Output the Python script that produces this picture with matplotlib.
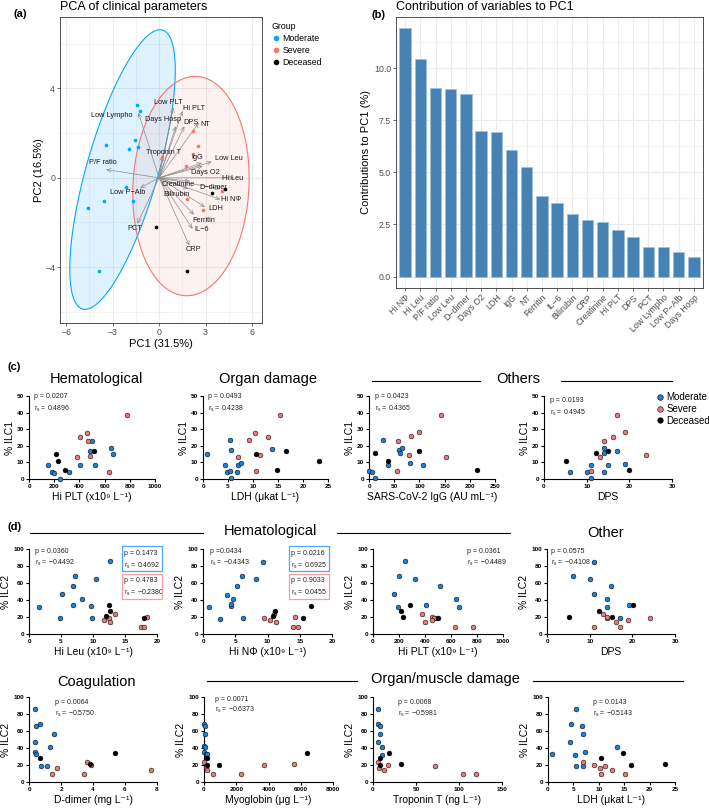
import matplotlib
matplotlib.use('Agg')
import matplotlib.pyplot as plt
import numpy as np
from matplotlib.lines import Line2D
from matplotlib.patches import Rectangle

plt.rcParams['font.family'] = ['Liberation Sans', 'DejaVu Sans']
plt.rcParams['mathtext.fontset'] = 'custom'
plt.rcParams['mathtext.rm'] = 'Liberation Sans'
plt.rcParams['mathtext.it'] = 'Liberation Sans:italic'

# ---------------- data: PCA (a) ----------------
pca_mod_x = [-1.40, -1.23, -3.43, -1.92, -1.53, -1.38, -2.13, -3.58, -1.66, -4.57, -3.88]
pca_mod_y = [3.25, 2.97, 1.47, 1.30, 1.69, 1.36, -0.42, -1.02, -1.05, -1.36, -4.16]
pca_sev_x = [2.18, 2.50, 2.22, 1.75, 0.17, 1.79, 2.87, 4.05]
pca_sev_y = [2.08, 1.42, 1.05, 0.52, 0.93, -0.94, -1.42, -0.60]
pca_dec_x = [3.43, 4.27, -0.22, 1.79]
pca_dec_y = [-0.66, -0.52, -2.19, -4.19]

var_names = ['Low PLT', 'Hi PLT', 'Days Hosp', 'DPS', 'NT', 'Low Lympho', 'Troponin T',
             'P/F ratio', 'IgG', 'Low Leu', 'Days O2', 'Hi Leu', 'Creatinine', 'D\u2212dimer',
             'Hi N\u03a6', 'Bilirubin', 'LDH', 'Ferritin', 'IL\u22126', 'CRP', 'Low P\u2212Alb', 'PCT']
var_x = [0.93, 1.53, 1.08, 1.64, 2.57, -1.34, 0.22, -3.43, 2.76, 3.41, 2.82, 4.85, 2.00, 3.96,
         3.96, 1.90, 2.97, 2.26, 2.17, 1.96, -1.23, -1.40]
var_y = [3.15, 3.00, 2.31, 2.31, 2.47, 2.92, 1.00, 0.37, 0.67, 0.72, 0.52, 0.00, -0.15, -0.49,
         -0.97, -0.50, -1.31, -1.65, -2.29, -3.04, -0.45, -2.05]
lab_x = [0.60, 2.28, 0.28, 2.05, 3.02, -3.06, 0.28, -3.64, 2.44, 4.48, 3.02, 4.76, 1.25, 3.51,
         4.66, 1.14, 3.69, 2.91, 2.76, 2.22, -2.05, -1.55]
lab_y = [3.37, 3.10, 2.59, 2.47, 2.38, 2.77, 1.15, 0.67, 0.90, 0.85, 0.25, -0.04, -0.30, -0.42,
         -0.97, -0.75, -1.39, -1.92, -2.32, -3.22, -0.64, -2.26]

# ---------------- data: contributions (b) ----------------
contrib_names = ['Hi N\u03a6', 'Hi Leu', 'P/F ratio', 'Low Leu', 'D\u2212dimer', 'Days O2', 'LDH', 'IgG',
                 'NT', 'Ferritin', 'IL\u22126', 'Bilirubin', 'CRP', 'Creatinine', 'Hi PLT', 'DPS',
                 'PCT', 'Low Lympho', 'Low P\u2212Alb', 'Days Hosp']
contrib_vals = [11.9, 10.45, 9.05, 9.0, 8.78, 6.98, 6.92, 6.08, 5.25, 3.85, 3.55, 3.0, 2.7,
                2.62, 2.25, 1.92, 1.4, 1.4, 1.2, 0.92]

# ---------------- data: (c) ILC1 ----------------
c1_mod_x = [151, 186, 196, 247, 321, 406, 483, 525, 650, 668, 499]
c1_mod_y = [8.4, 4.4, 3.8, 0.2, 4.0, 8.6, 17, 8.4, 18.4, 15, 23]
c1_sev_x = [382, 485, 637, 406, 464, 472, 780]
c1_sev_y = [13, 14, 4.4, 25.4, 28, 22.8, 38.6]
c1_dec_x = [217, 228, 289, 512]
c1_dec_y = [15, 10.8, 5.4, 16.6]

c2_mod_x = [0.8, 5.6, 4.4, 4.8, 5.4, 5.6, 6.8, 7.0, 7.5, 5.3, 13.7]
c2_mod_y = [14.8, 17.4, 8.6, 4.4, 4.8, 0.4, 4.4, 8.6, 9.4, 23.4, 18.2]
c2_sev_x = [7.0, 9.2, 10.4, 11.3, 10.6, 13.0, 15.3]
c2_sev_y = [13.4, 23.4, 28, 14.2, 4.6, 25.4, 38.6]
c2_dec_x = [10.6, 14.7, 16.6, 23.1]
c2_dec_y = [15.2, 5.4, 17, 11]

c3_mod_x = [0, 5, 12, 37, 59, 62, 65, 81, 107, 27]
c3_mod_y = [5, 4.4, 0.4, 8.6, 17.4, 15.4, 18.6, 9.4, 8.6, 23.4]
c3_sev_x = [55, 80, 152, 57, 84, 100, 143]
c3_sev_y = [4.6, 14.4, 13.4, 23, 25.8, 28.4, 38.8]
c3_dec_x = [12, 37, 100, 215]
c3_dec_y = [15.4, 11, 17, 5.6]

c4_mod_x = [6, 10, 11, 11, 14.1, 14.1, 14.1, 15.1, 17, 19]
c4_mod_y = [4, 4.4, 8.6, 0.4, 4.4, 15.4, 18.6, 8.6, 17, 9]
c4_sev_x = [11, 13.1, 14.1, 24, 16.1, 17, 19]
c4_sev_y = [4.6, 13.4, 23, 14.4, 25.4, 38.8, 28.2]
c4_dec_x = [5.1, 12.1, 15.1, 20]
c4_dec_y = [11, 15.4, 17, 5.6]

# ---------------- data: (d) ILC2 ----------------
d1_mod_x = [1.5, 4.8, 5.2, 6.9, 6.9, 7.2, 8.3, 9.7, 9.8, 10.5, 12.7]
d1_mod_y = [31.3, 18.8, 46.9, 34.4, 55.9, 68.4, 41.4, 32.4, 18.8, 64.8, 85.5]
d1_sev_x = [11.7, 12.5, 12.7, 13.4, 18.5, 17.5, 18.0]
d1_sev_y = [16, 18.8, 13.7, 23.4, 19.9, 8.6, 8.6]
d1_dec_x = [12.5, 12.7, 12.0, 17.9]
d1_dec_y = [33.6, 27.3, 20.7, 18.8]

d2_mod_x = [0.9, 2.6, 3.7, 4.3, 4.4, 4.6, 5.3, 6.1, 6.2, 8.2, 9.3]
d2_mod_y = [31.3, 18, 46, 32.8, 34.8, 41, 55.9, 68.4, 18.8, 64.8, 85]
d2_sev_x = [9.5, 10.4, 11.0, 11.3, 14.3, 13.9, 14.7]
d2_sev_y = [18.4, 16, 23.4, 13.7, 19.9, 8.6, 8.6]
d2_dec_x = [10.9, 11.1, 15.5, 16.8]
d2_dec_y = [20.7, 27.3, 18.8, 33.2]

d3_mod_x = [159, 192, 197, 249, 321, 405, 518, 641, 659, 485]
d3_mod_y = [46.9, 31.3, 68.4, 85.5, 64.8, 34, 55.9, 41, 31.6, 18.8]
d3_sev_x = [377, 403, 456, 467, 456, 628, 769]
d3_sev_y = [23.4, 13.7, 19.5, 18.5, 16, 8.6, 8.6]
d3_dec_x = [218, 228, 287, 500]
d3_dec_y = [27.3, 20.3, 33.6, 18.8]

d4_mod_x = [6.1, 10.1, 11.1, 11.1, 14.1, 14.1, 14.1, 15, 17.1, 19.3]
d4_mod_y = [68.4, 64.8, 85, 46.9, 41, 32, 18.4, 55.9, 18.8, 33.6]
d4_sev_x = [11.1, 13.1, 14.1, 16.1, 17.1, 19.1, 24.2]
d4_sev_y = [8.6, 23.4, 19.5, 13.7, 8.6, 16, 18.8]
d4_dec_x = [5.1, 12.1, 15.2, 20.2]
d4_dec_y = [20.3, 27.3, 19.5, 33.6]

d5_mod_x = [0.35, 0.46, 0.71, 0.4, 0.4, 0.46, 1.54, 1.29, 0.77, 1.15]
d5_mod_y = [86.3, 65.5, 68.6, 47, 35.3, 32.5, 56.9, 41.2, 19.2, 18.8]
d5_sev_x = [1.44, 1.75, 3.42, 3.63, 3.9, 7.6]
d5_sev_y = [9, 16.5, 9, 23.5, 19.6, 14.1]
d5_dec_x = [0.71, 3.8, 5.4]
d5_dec_y = [28.2, 21.6, 34.1]

d6_mod_x = [30, 60, 80, 20, 60, 30, 120, 170]
d6_mod_y = [68.6, 65.5, 56.9, 42, 41.5, 35, 33.3, 32.5]
d6_sev_x = [20, 150, 190, 540, 2270, 3700, 5600]
d6_sev_y = [23.5, 17.6, 14.5, 9, 9, 19.6, 20.8]
d6_dec_x = [200, 170, 950, 6400]
d6_dec_y = [28.2, 20.4, 20.4, 34.1]

d7_mod_x = [5.4, 5.4, 8.5, 7.8, 5.4, 10.5, 10.5]
d7_mod_y = [86.3, 68.6, 65.5, 56, 46.7, 41.2, 32.2]
d7_sev_x = [5.4, 6.6, 12.4, 17, 72.5, 105, 120]
d7_sev_y = [23.5, 16.5, 14.1, 19.6, 18.8, 9, 9]
d7_dec_x = [18.2, 7.8, 7.8, 32.6]
d7_dec_y = [34.1, 28.2, 19.6, 20.8]

d8_mod_x = [0.7, 4.4, 4.5, 5.6, 5.3, 5.6, 6.6, 6.8, 6.9, 7.2, 13.6]
d8_mod_y = [33.3, 47, 68.6, 86.3, 32.2, 18.8, 65.5, 56.9, 18.8, 34.9, 41.2]
d8_sev_x = [6.9, 9.0, 10.2, 10.5, 11.2, 12.5, 15.1]
d8_sev_y = [23.5, 20.4, 16.9, 9, 19.2, 14.1, 9]
d8_dec_x = [10.5, 14.7, 16.4, 23]
d8_dec_y = [28.2, 34.1, 20, 20.8]

group_labels = ['Moderate', 'Severe', 'Deceased']

# ---------------- styling ----------------
W, H = 709, 808
fig = plt.figure(figsize=(W / 100, H / 100), dpi=100)

def axpx(l, t, r, b):
    return fig.add_axes([l / W, 1 - b / H, (r - l) / W, (b - t) / H])

GG_BLUE, GG_RED = '#00A9FF', '#F8766D'
PR_BLUE, PR_RED = '#1F7FD6', '#E8787A'
GRID = '#EBEBEB'
TICKC = '#4D4D4D'

# ---------------- panel (a) ----------------
axA = axpx(60, 17, 262, 323)
axA.set_xlim(-6.4, 6.65)
axA.set_ylim(-6.5, 7.2)
for v in [-4.5, -1.5, 1.5, 4.5]:
    axA.axvline(v, color=GRID, lw=0.4, zorder=0)
for v in [-6, -3, 0, 3, 6]:
    axA.axvline(v, color=GRID, lw=0.8, zorder=0)
for v in [-6, -2, 2, 6]:
    axA.axhline(v, color=GRID, lw=0.4, zorder=0)
for v in [-4, 0, 4]:
    axA.axhline(v, color=GRID, lw=0.8, zorder=0)

t = np.linspace(0, 2 * np.pi, 300)
ex = -2.36 + 2.42 * np.cos(t) + 2.4 * np.sin(t)
ey = 0.37 + 6.26 * np.cos(t)
axA.fill(ex, ey, facecolor=(0.0, 0.66, 1.0, 0.13), edgecolor=GG_BLUE, lw=0.8, zorder=1)
ex = 2.06 + 0.27 * np.cos(t) + 3.75 * np.sin(t)
ey = -0.37 + 4.91 * np.cos(t)
axA.fill(ex, ey, facecolor=(0.97, 0.46, 0.43, 0.09), edgecolor=GG_RED, lw=0.8, zorder=1)

for i in range(len(var_names)):
    axA.annotate('', xy=(var_x[i], var_y[i]), xytext=(0, 0),
                 arrowprops=dict(arrowstyle='->,head_length=0.3,head_width=0.13',
                                 color='#8C8C8C', lw=0.5, shrinkA=0, shrinkB=0), zorder=2)
    axA.text(lab_x[i], lab_y[i], var_names[i], fontsize=5.3, ha='center', va='center',
             color='#1A1A1A', zorder=4)

axA.scatter(pca_mod_x, pca_mod_y, s=7, color=GG_BLUE, zorder=3, lw=0)
axA.scatter(pca_sev_x, pca_sev_y, s=7, color=GG_RED, zorder=3, lw=0)
axA.scatter(pca_dec_x, pca_dec_y, s=7, color='black', zorder=3, lw=0)

axA.set_xticks([-6, -3, 0, 3, 6])
axA.set_xticklabels(['\u22126', '\u22123', '0', '3', '6'])
axA.set_yticks([-4, 0, 4])
axA.set_yticklabels(['\u22124', '0', '4'])
axA.tick_params(labelsize=6.3, colors='#333333', labelcolor=TICKC, length=2, width=0.5, pad=1.5)
for s in axA.spines.values():
    s.set_color('#333333'); s.set_linewidth(0.6)
axA.set_xlabel('PC1 (31.5%)', fontsize=8, labelpad=1.5)
axA.set_ylabel('PC2 (16.5%)', fontsize=8, labelpad=0.5)
hA = [Line2D([], [], marker='o', ls='', color=c, markersize=3) for c in [GG_BLUE, GG_RED, 'black']]
leg = axA.legend(hA, group_labels, title='Group', loc='upper left', bbox_to_anchor=(1.02, 1.0),
                 frameon=False, fontsize=6.3, title_fontsize=6.3, handletextpad=0.3,
                 labelspacing=0.35, borderaxespad=0.2, handlelength=1.0, alignment='left')
fig.text(60 / W, 1 - 7 / H, 'PCA of clinical parameters', fontsize=9, ha='left', va='center')
fig.text(13 / W, 1 - 14 / H, '(a)', fontsize=8, fontweight='bold', ha='left', va='center')

# ---------------- panel (b) ----------------
axB = axpx(396, 17, 703, 288)
pos = np.arange(1, len(contrib_vals) + 1)
axB.set_xlim(0.4, 20.6)
axB.set_ylim(-0.55, 12.45)
for v in pos:
    axB.axvline(v, color=GRID, lw=0.8, zorder=0)
for v in [1.25, 3.75, 6.25, 8.75, 11.25]:
    axB.axhline(v, color=GRID, lw=0.4, zorder=0)
for v in [0, 2.5, 5, 7.5, 10]:
    axB.axhline(v, color=GRID, lw=0.8, zorder=0)
axB.bar(pos, contrib_vals, width=0.75, color='#4682B4', edgecolor='#9CC0DE', lw=0.4, zorder=2)
axB.set_xticks(pos)
axB.set_xticklabels(contrib_names, rotation=45, ha='right', rotation_mode='anchor')
axB.set_yticks([0, 2.5, 5, 7.5, 10])
axB.set_yticklabels(['0.0', '2.5', '5.0', '7.5', '10.0'])
axB.tick_params(labelsize=6.3, colors='#333333', labelcolor=TICKC, length=2, width=0.5, pad=1.5)
for s in axB.spines.values():
    s.set_color('#333333'); s.set_linewidth(0.6)
axB.set_ylabel('Contributions to PC1 (%)', fontsize=8, labelpad=2)
fig.text(396 / W, 1 - 7 / H, 'Contribution of variables to PC1', fontsize=9, ha='left', va='center')
fig.text(371 / W, 1 - 15 / H, '(b)', fontsize=8, fontweight='bold', ha='left', va='center')

# ---------------- Prism-style helpers ----------------
def prism(ax, xlim, xticks, ylim, yticks, xlabel, ylabel):
    ax.set_xlim(*xlim); ax.set_ylim(*ylim)
    ax.set_xticks(xticks, labels=[str(v) for v in xticks], fontweight='bold')
    ax.set_yticks(yticks, labels=[str(v) for v in yticks], fontweight='bold')
    for s in ['top', 'right']:
        ax.spines[s].set_visible(False)
    for s in ['left', 'bottom']:
        ax.spines[s].set_linewidth(0.8)
    ax.tick_params(length=2.5, width=0.8, labelsize=4.6, pad=1.2)
    ax.set_xlabel(xlabel, fontsize=7.5, labelpad=2)
    ax.set_ylabel(ylabel, fontsize=7.5, labelpad=1.5)

def pts(ax, mx, my, sx, sy, dx, dy):
    kw = dict(s=12, edgecolors='black', linewidths=0.35, zorder=3, clip_on=False)
    ax.scatter(mx, my, c=PR_BLUE, **kw)
    ax.scatter(sx, sy, c=PR_RED, **kw)
    ax.scatter(dx, dy, c='black', **kw)

def stats(ax, x, y1, y2, p, r):
    ax.text(x, y1, p, transform=ax.transAxes, fontsize=5, va='center', ha='left', color='#222222')
    ax.text(x, y2, r, transform=ax.transAxes, fontsize=5, va='center', ha='left', color='#222222')

def header(text, cx, cy, size=10.5, lines=(), ly=None):
    fig.text(cx / W, 1 - cy / H, text, ha='center', va='center', fontsize=size)
    for x0, x1 in lines:
        fig.add_artist(Line2D([x0 / W, x1 / W], [1 - ly / H] * 2, color='black', lw=0.8))

def rs(v):
    return r'r$_\mathregular{s}$ = ' + v

ILC1 = '% ILC1'
ILC2 = '% ILC2'
PLT = 'Hi PLT (x10\u2079 L\u207b\u00b9)'

# ---------------- panel (c) ----------------
fig.text(8 / W, 1 - 367 / H, '(c)', fontsize=8, fontweight='bold', ha='left', va='center')
header('Hematological', 96, 379)
header('Organ damage', 268, 379)
header('Others', 518, 379, lines=[(372, 480), (561, 672)], ly=381)

c1 = axpx(29, 396, 155, 479)
prism(c1, (0, 1000), [0, 200, 400, 600, 800, 1000], (0, 50), [0, 10, 20, 30, 40, 50], PLT, ILC1)
pts(c1, c1_mod_x, c1_mod_y, c1_sev_x, c1_sev_y, c1_dec_x, c1_dec_y)
stats(c1, 0.04, 0.99, 0.85, 'p = 0.0207', rs('0.4896'))

c2 = axpx(203, 396, 328, 479)
prism(c2, (0, 25), [0, 5, 10, 15, 20, 25], (0, 50), [0, 10, 20, 30, 40, 50],
      'LDH (\u03bckat L\u207b\u00b9)', ILC1)
pts(c2, c2_mod_x, c2_mod_y, c2_sev_x, c2_sev_y, c2_dec_x, c2_dec_y)
stats(c2, 0.04, 0.99, 0.85, 'p = 0.0493', rs('0.4238'))

c3 = axpx(369, 396, 495, 479)
prism(c3, (0, 250), [0, 50, 100, 150, 200, 250], (0, 50), [0, 10, 20, 30, 40, 50],
      'SARS-CoV-2 IgG (AU mL\u207b\u00b9)', ILC1)
pts(c3, c3_mod_x, c3_mod_y, c3_sev_x, c3_sev_y, c3_dec_x, c3_dec_y)
stats(c3, 0.05, 0.99, 0.85, 'p = 0.0423', rs('0.4365'))

c4 = axpx(544, 396, 672, 479)
prism(c4, (0, 30), [0, 10, 20, 30], (0, 50), [0, 10, 20, 30, 40, 50], 'DPS', ILC1)
pts(c4, c4_mod_x, c4_mod_y, c4_sev_x, c4_sev_y, c4_dec_x, c4_dec_y)
stats(c4, 0.05, 0.94, 0.80, 'p = 0.0193', rs('0.4945'))

hC = [Line2D([], [], marker='o', ls='', markerfacecolor=c, markeredgecolor='black',
             markeredgewidth=0.4, markersize=4) for c in [PR_BLUE, PR_RED, 'black']]
fig.legend(hC, group_labels, loc='upper left', bbox_to_anchor=(654 / W, 1 - 392 / H),
           frameon=False, fontsize=7, handletextpad=0.1, labelspacing=0.2,
           borderaxespad=0, borderpad=0, handlelength=1.2)

# ---------------- panel (d) ----------------
fig.text(8 / W, 1 - 527 / H, '(d)', fontsize=8, fontweight='bold', ha='left', va='center')
header('Hematological', 270, 531, lines=[(30, 203), (337, 510)], ly=533)
header('Other', 606, 533)
header('Coagulation', 97, 682)
header('Organ/muscle damage', 445, 679, lines=[(207, 357), (533, 683)], ly=681)

yt2 = [0, 20, 40, 60, 80, 100]

def boxed(ax, x0, x1, y0, y1, tx, ty1, ty2, p, r, ec):
    ax.add_patch(Rectangle((x0, y0), x1 - x0, y1 - y0, transform=ax.transAxes, fill=False,
                           ec=ec, lw=0.9, clip_on=False, zorder=5))
    stats(ax, tx, ty1, ty2, p, r)

d1 = axpx(29, 549, 157, 634)
prism(d1, (0, 20), [0, 5, 10, 15, 20], (0, 100), yt2, 'Hi Leu (x10\u2079 L\u207b\u00b9)', ILC2)
pts(d1, d1_mod_x, d1_mod_y, d1_sev_x, d1_sev_y, d1_dec_x, d1_dec_y)
stats(d1, 0.05, 0.965, 0.835, 'p = 0.0360', rs('\u22120.4492'))
boxed(d1, 0.727, 1.039, 0.74, 1.035, 0.745, 0.95, 0.80, 'p = 0.1473', rs('0.4692'), '#4DA6FF')
boxed(d1, 0.727, 1.039, 0.41, 0.705, 0.745, 0.625, 0.48, 'p = 0.4783', rs('\u22120.2380'), '#F4A0A0')

d2 = axpx(203, 549, 332, 634)
prism(d2, (0, 20), [0, 5, 10, 15, 20], (0, 100), yt2, 'Hi N\u03a6 (x10\u2079 L\u207b\u00b9)', ILC2)
pts(d2, d2_mod_x, d2_mod_y, d2_sev_x, d2_sev_y, d2_dec_x, d2_dec_y)
stats(d2, 0.055, 0.965, 0.835, 'p =0.0434', rs('\u22120.4343'))
boxed(d2, 0.667, 0.977, 0.74, 1.035, 0.685, 0.95, 0.80, 'p = 0.0216', rs('0.6925'), '#4DA6FF')
boxed(d2, 0.667, 0.977, 0.41, 0.705, 0.685, 0.625, 0.48, 'p = 0.9033', rs('0.0455'), '#F4A0A0')

d3 = axpx(373, 549, 503, 634)
prism(d3, (0, 1000), [0, 200, 400, 600, 800, 1000], (0, 100), yt2, PLT, ILC2)
pts(d3, d3_mod_x, d3_mod_y, d3_sev_x, d3_sev_y, d3_dec_x, d3_dec_y)
stats(d3, 0.72, 0.965, 0.835, 'p = 0.0361', rs('\u22120.4489'))

d4 = axpx(547, 549, 675, 634)
prism(d4, (0, 30), [0, 10, 20, 30], (0, 100), yt2, 'DPS', ILC2)
pts(d4, d4_mod_x, d4_mod_y, d4_sev_x, d4_sev_y, d4_dec_x, d4_dec_y)
stats(d4, 0.03, 0.965, 0.835, 'p = 0.0575', rs('\u22120.4108'))

d5 = axpx(29, 697, 157, 782)
prism(d5, (0, 8), [0, 2, 4, 6, 8], (0, 100), yt2, 'D-dimer (mg L\u207b\u00b9)', ILC2)
pts(d5, d5_mod_x, d5_mod_y, d5_sev_x, d5_sev_y, d5_dec_x, d5_dec_y)
stats(d5, 0.2, 0.94, 0.80, 'p = 0.0064', rs('\u22120.5750'))

d6 = axpx(204, 697, 333, 782)
prism(d6, (0, 8000), [0, 2000, 4000, 6000, 8000], (0, 100), yt2, 'Myoglobin (\u03bcg L\u207b\u00b9)', ILC2)
pts(d6, d6_mod_x, d6_mod_y, d6_sev_x, d6_sev_y, d6_dec_x, d6_dec_y)
stats(d6, 0.085, 0.975, 0.85, 'p = 0.0071', rs('\u22120.6373'))

d7 = axpx(373, 697, 502, 782)
prism(d7, (0, 150), [0, 50, 100, 150], (0, 100), yt2, 'Troponin T (ng L\u207b\u00b9)', ILC2)
pts(d7, d7_mod_x, d7_mod_y, d7_sev_x, d7_sev_y, d7_dec_x, d7_dec_y)
stats(d7, 0.19, 0.94, 0.80, 'p = 0.0068', rs('\u22120.5981'))

d8 = axpx(548, 697, 675, 782)
prism(d8, (0, 25), [0, 5, 10, 15, 20, 25], (0, 100), yt2, 'LDH (\u03bckat L\u207b\u00b9)', ILC2)
pts(d8, d8_mod_x, d8_mod_y, d8_sev_x, d8_sev_y, d8_dec_x, d8_dec_y)
stats(d8, 0.355, 0.94, 0.80, 'p = 0.0143', rs('\u22120.5143'))

fig.savefig('out.png', dpi=100)
